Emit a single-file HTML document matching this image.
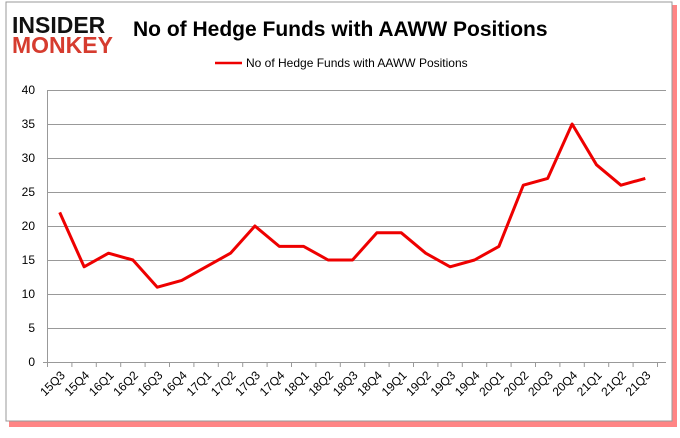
<!DOCTYPE html>
<html><head><style>
body{margin:0;width:680px;height:433px;background:#fff;overflow:hidden;font-family:"Liberation Sans",sans-serif}
</style></head><body>
<svg width="680" height="433" xmlns="http://www.w3.org/2000/svg">
<rect x="9" y="5" width="668" height="422" fill="#f33" opacity="0.6"/>
<rect x="6" y="2" width="666" height="419" fill="#fff" stroke="#999" stroke-width="1"/>
<text x="12" y="33" font-family="Liberation Sans" font-weight="900" font-size="23" fill="#111">INSIDER</text>
<text x="12" y="53" font-family="Liberation Sans" font-weight="900" font-size="23" fill="#d63c2f">MONKEY</text>
<text x="133" y="36" font-family="Liberation Sans" font-weight="bold" font-size="21" fill="#000">No of Hedge Funds with AAWW Positions</text>
<line x1="215" y1="63" x2="242" y2="63" stroke="#e00" stroke-width="2.5"/>
<text x="246" y="67" font-size="12" fill="#000">No of Hedge Funds with AAWW Positions</text>
<g stroke="#999" stroke-width="1">
<line x1="47" y1="90.5" x2="666" y2="90.5"/>
<line x1="47" y1="124.5" x2="666" y2="124.5"/>
<line x1="47" y1="158.5" x2="666" y2="158.5"/>
<line x1="47" y1="192.5" x2="666" y2="192.5"/>
<line x1="47" y1="226.5" x2="666" y2="226.5"/>
<line x1="47" y1="260.5" x2="666" y2="260.5"/>
<line x1="47" y1="294.5" x2="666" y2="294.5"/>
<line x1="47" y1="328.5" x2="666" y2="328.5"/>
<line x1="43" y1="362.5" x2="666" y2="362.5"/>
<line x1="47.5" y1="90" x2="47.5" y2="362"/>
</g>
<g font-size="12" fill="#000" text-anchor="end">
<text x="35" y="94">40</text><text x="35" y="128">35</text><text x="35" y="162">30</text>
<text x="35" y="196">25</text><text x="35" y="230">20</text><text x="35" y="264">15</text>
<text x="35" y="298">10</text><text x="35" y="332">5</text><text x="35" y="366">0</text>
</g>
<g id="ticks" stroke="#999"></g>
<g id="labels" font-size="12" fill="#000"></g>
<polyline id="line" fill="none" stroke="#e00" stroke-width="3" stroke-linejoin="round"/>
</svg>
<script>
var d=[22,14,16,15,11,12,14,16,20,17,17,15,15,19,19,16,14,15,17,26,27,35,29,26,27];
var l=["15Q3","15Q4","16Q1","16Q2","16Q3","16Q4","17Q1","17Q2","17Q3","17Q4","18Q1","18Q2","18Q3","18Q4","19Q1","19Q2","19Q3","19Q4","20Q1","20Q2","20Q3","20Q4","21Q1","21Q2","21Q3"];
var ns="http://www.w3.org/2000/svg",pts=[],w=24.4,x0=47.5;
var T=document.getElementById("ticks"),L=document.getElementById("labels");
for(var i=0;i<=25;i++){var t=document.createElementNS(ns,"line");var x=x0+i*w;t.setAttribute("x1",x);t.setAttribute("x2",x);t.setAttribute("y1",362);t.setAttribute("y2",367);T.appendChild(t);}
for(var i=0;i<25;i++){var x=x0+w/2+i*w;pts.push(x+","+(362-d[i]*6.8));
var s=document.createElementNS(ns,"text");s.setAttribute("transform","translate("+(x+6)+",376) rotate(-45)");s.setAttribute("text-anchor","end");s.textContent=l[i];L.appendChild(s);}
document.getElementById("line").setAttribute("points",pts.join(" "));
</script>
</body></html>
